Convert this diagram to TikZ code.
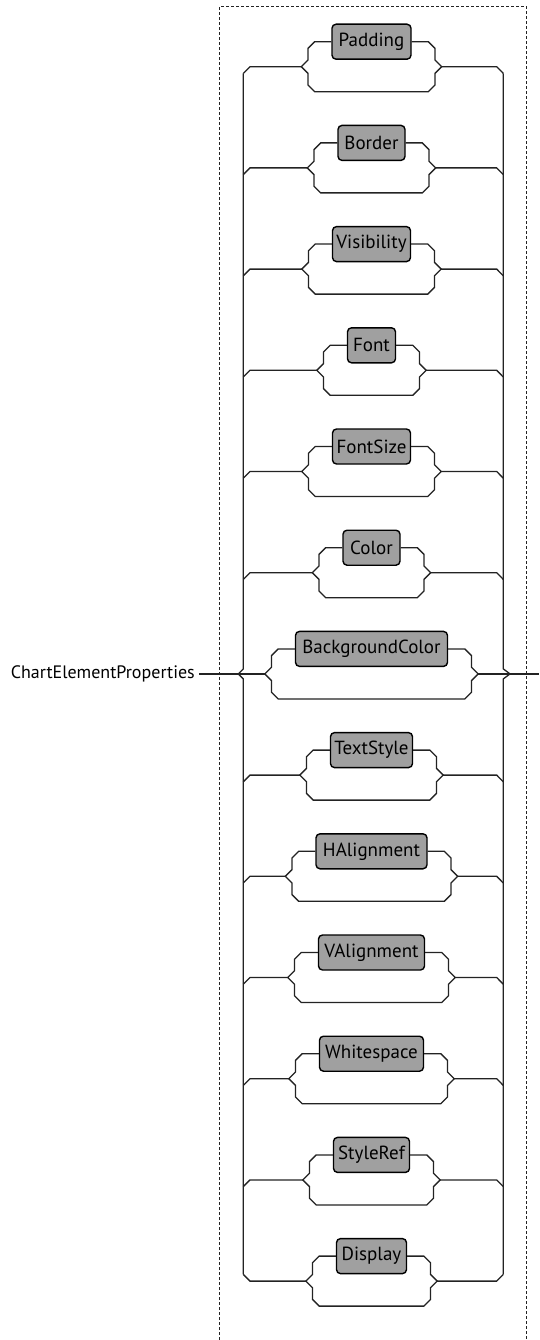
\documentclass[tikz,border=0pt]{standalone}
\usepackage{fontspec}
\setmainfont{PT Sans}
\usetikzlibrary{calc}
\definecolor{boxgray}{RGB}{160,160,160}
\definecolor{railcol}{RGB}{35,35,35}
\begin{document}
\begin{tikzpicture}[x=1pt,y=-1pt,
  rail/.style={draw=railcol, line width=1.3pt, line join=miter},
  termbox/.style={draw=black, line width=1.4pt, fill=boxgray, rounded corners=4pt,
    minimum height=35pt, inner xsep=3pt, inner ysep=0pt,
    font=\fontsize{19}{22}\selectfont, text=black},
  frame/.style={draw=railcol, line width=0.9pt, dash pattern=on 3pt off 2pt},
  rulelabel/.style={font=\fontsize{18}{21}\selectfont, inner xsep=4pt, inner ysep=0pt, anchor=east, text=black}]
\useasboundingbox (0,0) rectangle (539,1340);
\draw[frame] (219.7,1340) -- (219.7,6.7) -- (526.7,6.7) -- (526.7,1340);
\foreach \name/\w [count=\i from 0] in {Padding/79,Border/67,Visibility/78,Font/48,FontSize/78,Color/57,BackgroundColor/152,TextStyle/82,HAlignment/111,VAlignment/106,Whitespace/104,StyleRef/76,Display/70}{
  \pgfmathsetmacro\yy{66.7+101.2*\i}
  \node[termbox, minimum width=\w pt] (b\i) at (371.5,{\yy-25}) {\name};
  \coordinate (tl\i) at ($(b\i.west)+(-30,25)$);
  \coordinate (tr\i) at ($(b\i.east)+(30,25)$);
  \draw[rail] (b\i.west) -- ++(-16.6,0) -- ++(-6.7,6.7) -- ++(0,11.6) -- (tl\i)
     -- ++(6.7,6.7) -- ++(0,11.6) -- ++(6.7,6.7)
     -- ($(b\i.east)+(16.6,50)$) -- ++(6.7,-6.7) -- ++(0,-11.6) -- (tr\i)
     -- ++(-6.7,-6.7) -- ++(0,-11.6) -- ++(-6.7,-6.7) -- (b\i.east);
  \ifnum\i=6
    \draw[rail] (238.3,\yy) -- (tl\i);
    \draw[rail] (tr\i) -- (510,\yy);
  \else\ifnum\i=12
    \draw[rail] (243.3,{\yy-6.7}) -- (250,\yy) -- (tl\i);
    \draw[rail] (tr\i) -- (496.7,\yy) -- (503.3,{\yy-6.7});
  \else
    \draw[rail] (243.3,{\yy+6.7}) -- (250,\yy) -- (tl\i);
    \draw[rail] (tr\i) -- (496.7,\yy) -- (503.3,{\yy+6.7});
  \fi\fi
}
\coordinate (in) at (238.3,673.9);
\coordinate (out) at (510,673.9);
\coordinate (exit) at (539,673.9);
\draw[rail] (243.3,73.4) -- (243.3,668.9) -- (in) -- (243.3,678.9) -- (243.3,1274.4);
\draw[rail] (503.3,73.4) -- (503.3,668.9) -- (out) -- (503.3,678.9) -- (503.3,1274.4);
\node[rulelabel] (lab) at (199,673.9) {ChartElementProperties};
\draw[rail] (lab.east) -- (in);
\draw[rail] (out) -- (exit);
\end{tikzpicture}
\end{document}
